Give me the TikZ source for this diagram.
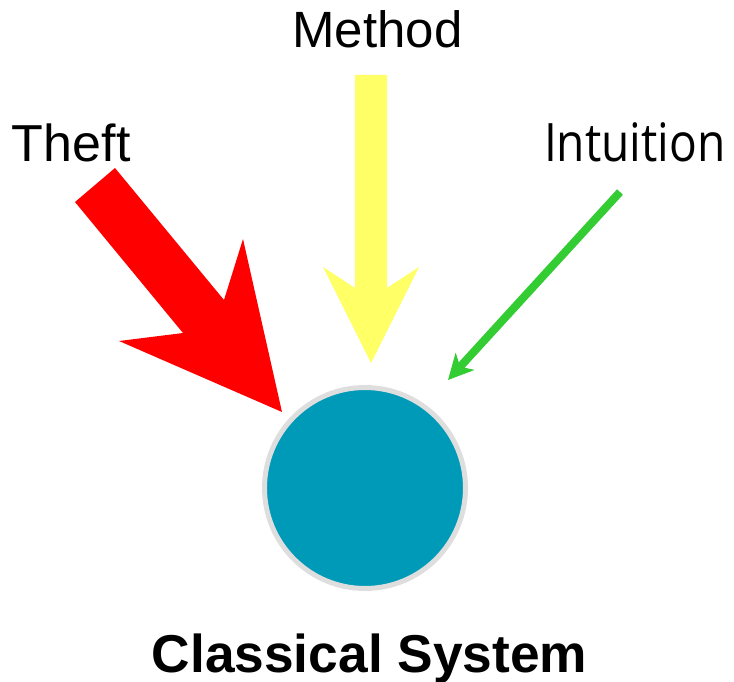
\documentclass[tikz,border=0pt]{standalone}
\usepackage{fontspec}
\setmainfont{Liberation Sans}
\newfontfamily\labelfont{Open Sans}
\usetikzlibrary{arrows.meta}
\definecolor{sysfill}{RGB}{0,154,185}
\definecolor{sysring}{RGB}{222,222,222}
\definecolor{theftred}{RGB}{255,0,0}
\definecolor{methodyellow}{RGB}{255,255,102}
\definecolor{intuitgreen}{RGB}{51,204,51}
\tikzset{
  lbl/.style={inner sep=0pt, outer sep=0pt, font=\fontsize{51}{60}\selectfont},
}
\begin{document}
\begin{tikzpicture}[x=1pt,y=-1pt]
\useasboundingbox (0,0) rectangle (734,682);

% the system
\node[circle, minimum size=201pt, inner sep=0pt, fill=sysfill, draw=sysring, line width=5pt] (sys) at (365,488) {};
\node[lbl, anchor=base, font=\fontsize{53.3}{60}\selectfont\bfseries] (title) at (369.5,672) {Classical System};

% labels
\node[lbl, anchor=base west, font=\fontsize{52}{60}\selectfont] (theft) at (12,161) {Theft};
\node[lbl, anchor=base] (method) at (377.5,48) {Method};
\node[lbl, anchor=base west, font=\fontsize{53}{60}\labelfont] (intuition) at (544,161) {\scalebox{0.87}[1]{Intuition}};

% red block arrow
\coordinate (rA) at (75,202);
\coordinate (rB) at (115,168);
\coordinate (rC) at (224,300);
\coordinate (rD) at (243,239);
\coordinate (rTip) at (282,412);
\coordinate (rE) at (119,341);
\coordinate (rF) at (183,333);
\fill[theftred] (rA) -- (rB) -- (rC) -- (rD) -- (rTip) -- (rE) -- (rF) -- cycle;

% yellow block arrow
\coordinate (yA) at (355,75);
\coordinate (yB) at (387,75);
\coordinate (yC) at (387,288);
\coordinate (yD) at (419,267);
\coordinate (yTip) at (371,363);
\coordinate (yE) at (323,267);
\coordinate (yF) at (355,288);
\fill[methodyellow] (yA) -- (yB) -- (yC) -- (yD) -- (yTip) -- (yE) -- (yF) -- cycle;

% green line arrow
\coordinate (gTail) at (620,192);
\coordinate (gTip) at (448,380);
\draw[intuitgreen, line width=8pt, -{Stealth[length=25pt, width=25pt, inset=7pt]}] (gTail) -- (gTip);
\end{tikzpicture}
\end{document}
